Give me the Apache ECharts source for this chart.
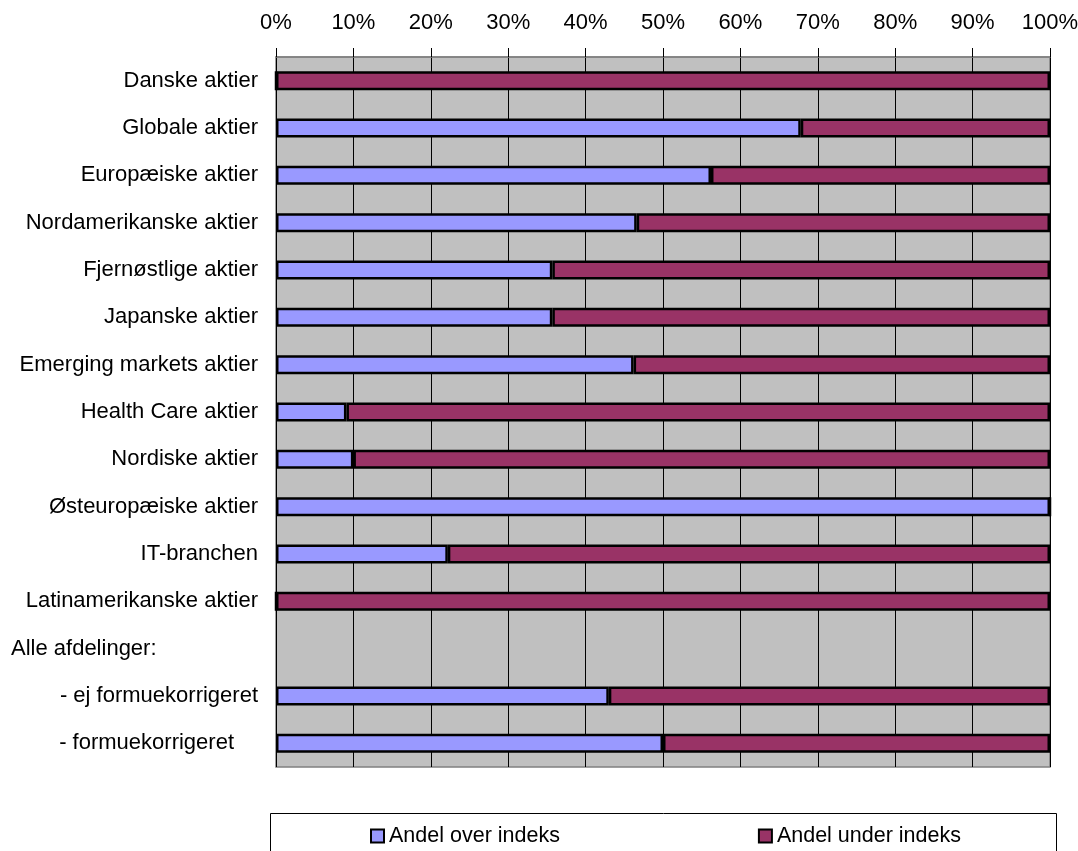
<!DOCTYPE html>
<html>
<head>
<meta charset="utf-8">
<script src="https://cdn.jsdelivr.net/npm/echarts@6/dist/echarts.min.js"></script>
<style>html,body{margin:0;padding:0;background:#fff;}#c{width:1078px;height:851px;}</style>
</head>
<body>
<div id="c"></div>
<script>
var categories = ['Danske aktier','Globale aktier','Europæiske aktier','Nordamerikanske aktier','Fjernøstlige aktier','Japanske aktier','Emerging markets aktier','Health Care aktier','Nordiske aktier','Østeuropæiske aktier','IT-branchen','Latinamerikanske aktier','Alle afdelinger:','- ej formuekorrigeret','- formuekorrigeret'];
var overIndex  = [0, 67.8, 56.2, 46.6, 35.7, 35.7, 46.2, 9.1, 10.0, 100, 22.2, 0, null, 43.0, 50.0];
var underIndex = [100, 32.2, 43.8, 53.4, 64.3, 64.3, 53.8, 90.9, 90.0, 0, 77.8, 100, null, 57.0, 50.0];
var seriesNames = ['Andel over indeks', 'Andel under indeks'];

var FONT = '"Liberation Sans", Arial, sans-serif';
var chart = echarts.init(document.getElementById('c'), null, {renderer: 'canvas'});
chart.setOption({
  backgroundColor: '#ffffff',
  animation: false,
  textStyle: {fontFamily: FONT, color: '#000'},
  grid: {left: 276, right: 28, top: 57, bottom: 84, outerBoundsMode: 'none', containLabel: false,
         show: true, backgroundColor: '#c0c0c0', borderColor: '#808080', borderWidth: 1.5},
  xAxis: {
    type: 'value', position: 'top', min: 0, max: 100, interval: 10,
    axisLine: {show: true, lineStyle: {color: '#808080', width: 1.5}},
    axisTick: {show: true, length: 9, lineStyle: {color: '#000', width: 1}},
    axisLabel: {formatter: '{value}%', fontSize: 22, color: '#000', fontFamily: FONT, margin: 23},
    splitLine: {show: true, lineStyle: {color: '#000', width: 1}}
  },
  yAxis: {
    type: 'category', inverse: true, data: categories,
    axisLine: {show: false}, axisTick: {show: false},
    splitLine: {show: false},
    axisLabel: {
      fontSize: 22, color: '#000', fontFamily: FONT, margin: 18,
      formatter: function (v) {
        if (v === 'Alle afdelinger:') return '{l|' + v + '}';
        if (v === '- formuekorrigeret') return '{f|' + v + '}';
        return v;
      },
      rich: {
        l: {width: 247, align: 'left', fontSize: 22, fontFamily: FONT, color: '#000'},
        f: {padding: [0, 24, 0, 0], fontSize: 22, fontFamily: FONT, color: '#000'}
      }
    }
  },
  legend: {
    left: 370, top: 825, padding: 0, itemGap: 198, itemWidth: 13, itemHeight: 13,
    icon: 'rect',
    textStyle: {fontSize: 21.5, fontFamily: FONT, color: '#000'},
    itemStyle: {borderColor: '#000', borderWidth: 2},
    data: seriesNames
  },
  graphic: [{
    type: 'rect', left: 270, top: 813, z: -1,
    shape: {width: 786, height: 60},
    style: {fill: '#fff', stroke: '#000', lineWidth: 1}
  }],
  series: [
    {name: seriesNames[0], type: 'bar', stack: 'a', data: overIndex, barWidth: 19,
     itemStyle: {color: '#9999ff', borderColor: '#000', borderWidth: 2.5}},
    {name: seriesNames[1], type: 'bar', stack: 'a', data: underIndex, barWidth: 19,
     itemStyle: {color: '#993366', borderColor: '#000', borderWidth: 2.5}}
  ]
});
</script>
</body>
</html>
